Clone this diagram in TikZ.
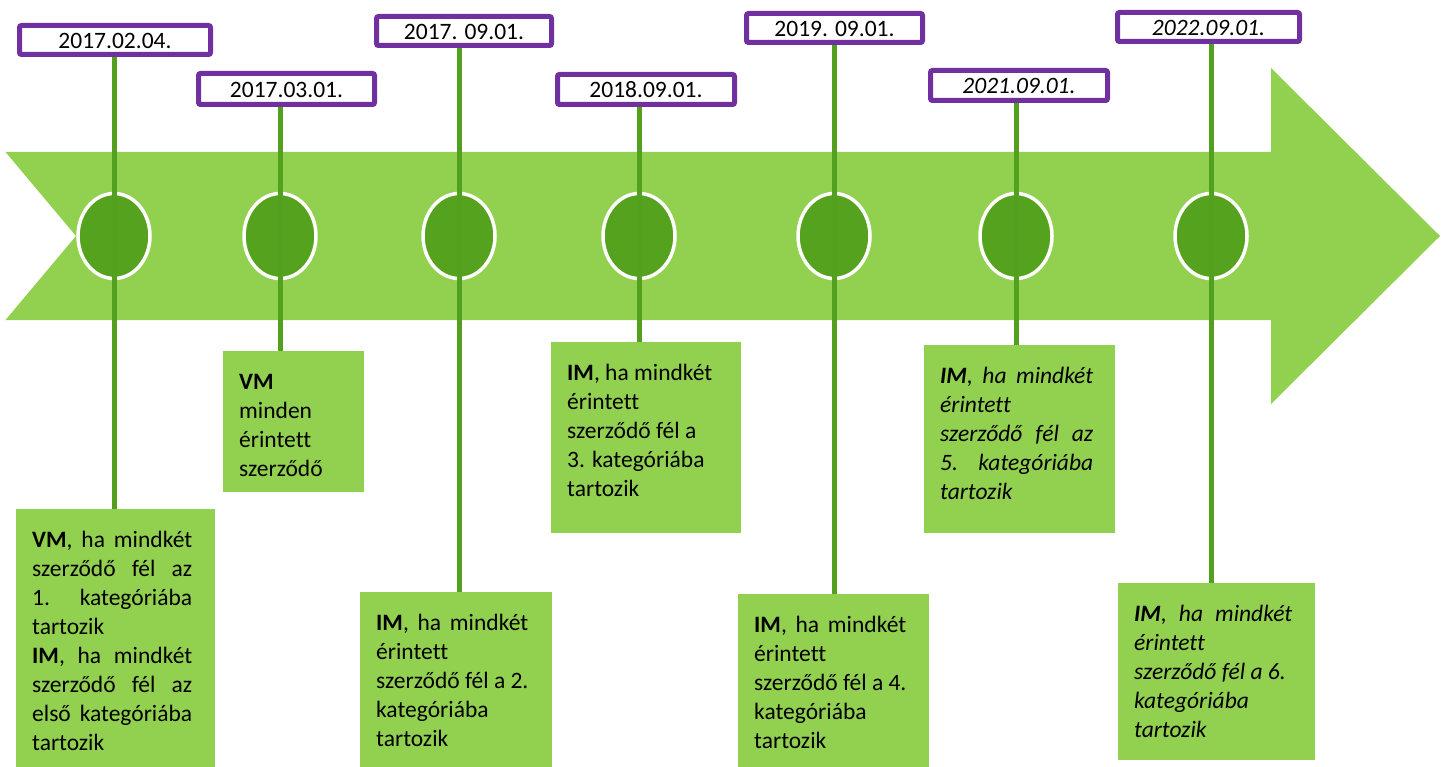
\documentclass[tikz,border=0pt]{standalone}
\usepackage{fontspec}
\setmainfont{Carlito}[Ligatures=NoCommon]
\usetikzlibrary{shapes.geometric}
\definecolor{arrowgreen}{HTML}{92D050}
\definecolor{dotgreen}{HTML}{55A21F}
\definecolor{stemgreen}{HTML}{52A01E}
\definecolor{datepurple}{HTML}{7030A0}
\newcommand\jline[2]{\makebox[#1pt][s]{#2}}
\newcommand\tbtext[3]{\parbox[t][#2pt][t]{#1pt}{\raggedright\leftskip=16pt\rule{0pt}{38pt}#3}}
\pgfdeclarelayer{back}
\pgfsetlayers{back,main}
\begin{document}
\begin{tikzpicture}[x=1pt,y=-1pt,
  font=\fontsize{23.5}{29}\selectfont,
  datebox/.style={draw=datepurple, line width=5pt, fill=white, rounded corners=2pt,
    inner sep=0pt, text height=17pt, text depth=0pt},
  textbox/.style={fill=arrowgreen, inner sep=0pt, anchor=north west},
  dot/.style={ellipse, fill=dotgreen, draw=white, line width=3.5pt,
    minimum width=72pt, minimum height=85pt, inner sep=0pt},
  stem/.style={draw=stemgreen, line width=5pt}]
\useasboundingbox (0,0) rectangle (1445,767);

\begin{pgfonlayer}{back}
\fill[arrowgreen] (5.5,152) -- (1271,152) -- (1271,68) -- (1440,236) -- (1271,404)
  -- (1271,320) -- (5.5,320) -- (76,236) -- cycle;
\node[dot] (c1) at (114,236) {};
\node[dot] (c2) at (280,236) {};
\node[dot] (c3) at (459,236) {};
\node[dot] (c4) at (639,236) {};
\node[dot] (c5) at (834,236) {};
\node[dot] (c6) at (1016,236) {};
\node[dot] (c7) at (1211,236) {};
\end{pgfonlayer}

% date boxes
\node[datebox, minimum width=191pt, minimum height=29pt] (d1) at (115,40) {2017.02.04.};
\node[datebox, minimum width=176pt, minimum height=31pt] (d2) at (286.5,89) {2017.03.01.};
\node[datebox, minimum width=175pt, minimum height=29pt] (d3) at (464,31) {2017. 09.01.};
\node[datebox, minimum width=177pt, minimum height=30pt] (d4) at (646,89.5) {2018.09.01.};
\node[datebox, minimum width=176pt, minimum height=29pt] (d5) at (834.5,28) {2019. 09.01.};
\node[datebox, minimum width=177pt, minimum height=30pt] (d6) at (1019,85.5) {\itshape 2021.09.01.};
\node[datebox, minimum width=182pt, minimum height=29pt] (d7) at (1208.5,27) {\itshape 2022.09.01.};

% text boxes
\node[textbox] (t1) at (16,509) {\tbtext{199}{262}{%
\jline{160}{\textbf{VM}, ha mindkét}\\
\jline{160}{szerződő fél az}\\
\jline{160}{1. kategóriába}\\
tartozik\\
\jline{160}{\textbf{IM}, ha mindkét}\\
\jline{160}{szerződő fél az}\\
\jline{160}{első kategóriába}\\
tartozik}};
\node[textbox] (t2) at (223,351) {\tbtext{141}{141}{%
\textbf{VM}\\
minden\\
érintett\\
szerződő}};
\node[textbox] (t3) at (360,592) {\tbtext{192}{179}{%
\jline{152}{\textbf{IM}, ha mindkét}\\
érintett\\
szerződő fél a 2.\\
kategóriába\\
tartozik}};
\node[textbox] (t4) at (551,342) {\tbtext{190}{191}{%
\textbf{IM}, ha mindkét\\
érintett\\
szerződő fél a\\
3. kategóriába\\
tartozik}};
\node[textbox] (t5) at (738,594) {\tbtext{191}{177}{%
\jline{152}{\textbf{IM}, ha mindkét}\\
érintett\\
szerződő fél a 4.\\
kategóriába\\
tartozik}};
\node[textbox] (t6) at (924,345) {\tbtext{191}{188}{\itshape
\jline{153}{\textbf{IM}, ha mindkét}\\
érintett\\
\jline{153}{szerződő fél az}\\
\jline{153}{5. kategóriába}\\
tartozik}};
\node[textbox] (t7) at (1118,583) {\tbtext{197}{177}{\itshape
\jline{158}{\textbf{IM}, ha mindkét}\\
érintett\\
szerződő fél a 6.\\
kategóriába\\
tartozik}};

% stems
\begin{pgfonlayer}{back}
\draw[stem] (d1.south -| c1) -- (t1.north -| c1);
\draw[stem] (d2.south -| c2) -- (t2.north -| c2);
\draw[stem] (d3.south -| c3) -- (t3.north -| c3);
\draw[stem] (d4.south -| c4) -- (t4.north -| c4);
\draw[stem] (d5.south -| c5) -- (t5.north -| c5);
\draw[stem] (d6.south -| c6) -- (t6.north -| c6);
\draw[stem] (d7.south -| c7) -- (t7.north -| c7);
\end{pgfonlayer}
\end{tikzpicture}
\end{document}
